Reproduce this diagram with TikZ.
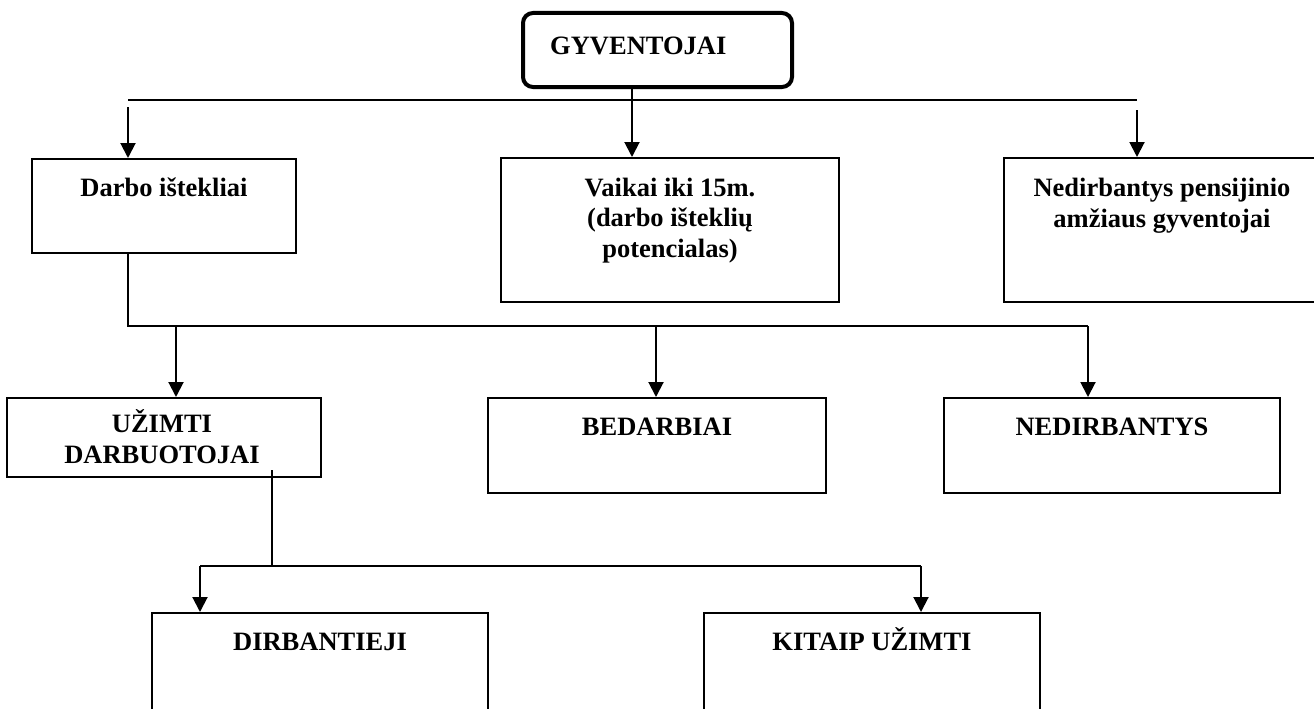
\documentclass[tikz,border=0pt]{standalone}
\usepackage{fontspec}
\setmainfont{Liberation Serif}
\usetikzlibrary{arrows.meta,calc}

\begin{document}
\begin{tikzpicture}[x=1pt,y=-1pt,
  line/.style={line width=2pt,draw=black},
  arr/.style={line width=2pt,draw=black,-{Triangle[length=15pt,width=15pt]}},
  box/.style={draw=black,line width=2pt,rectangle,inner sep=0pt},
  txt/.style={font=\bfseries\fontsize{26.5}{30.5}\selectfont,align=center,inner sep=0pt,anchor=base}
]
\useasboundingbox (0,0) rectangle (1314,709);
\clip (0,0) rectangle (1314,709);

% top level
\node[draw=black,line width=4pt,rounded corners=10pt,minimum width=269,minimum height=74,inner sep=0pt] (top) at (657.5,50) {};
\node[txt,anchor=base west] (top-t) at (550,55) {GYVENTOJAI};

% first row (multi-line labels are placed by their last baseline)
\node[box,minimum width=264,minimum height=94] (darbo) at (164,206) {};
\node[txt] (darbo-t) at (164,196) {Darbo ištekliai};
\node[box,minimum width=338,minimum height=144] (vaikai) at (670,230) {};
\node[txt] (vaikai-t) at (670,257) {Vaikai iki 15m.\\(darbo išteklių\\potencialas)};
\node[box,minimum width=318,minimum height=144] (pens) at (1163,230) {};
\node[txt] (pens-t) at (1162,227) {Nedirbantys pensijinio\\amžiaus gyventojai};

% second row
\node[box,minimum width=314,minimum height=79] (uzimti) at (164,437.5) {};
\node[txt] (uzimti-t) at (162,463) {UŽIMTI\\DARBUOTOJAI};
\node[box,minimum width=338,minimum height=95] (bedarb) at (657,445.5) {};
\node[txt] (bedarb-t) at (657,435) {BEDARBIAI};
\node[box,minimum width=336,minimum height=95] (nedirb) at (1112,445.5) {};
\node[txt] (nedirb-t) at (1112,435) {NEDIRBANTYS};

% third row
\node[box,minimum width=336,minimum height=127] (dirb) at (320,676.5) {};
\node[txt] (dirb-t) at (320,650) {DIRBANTIEJI};
\node[box,minimum width=336,minimum height=127] (kitaip) at (872,676.5) {};
\node[txt] (kitaip-t) at (872,650) {KITAIP UŽIMTI};

% connectors from the top box
\coordinate (j1) at (632,100);
\coordinate (h1l) at (128,100);
\coordinate (h1r) at (1137,100);
\coordinate (a1l) at (128,107);
\coordinate (a1r) at (1137,110);
\draw[line] (j1 |- top.south) -- (j1);
\draw[line] (h1l) -- (h1r);
\draw[arr] (j1) -- (j1 |- vaikai.north);
\draw[arr] (a1l) -- (a1l |- darbo.north);
\draw[arr] (a1r) -- (a1r |- pens.north);

% connectors from the labour resources box
\coordinate (j2) at (128,326);
\coordinate (h2r) at (1088,326);
\draw[line] (j2 |- darbo.south) -- (j2) -- (h2r);
\coordinate (b1) at (176,326);
\coordinate (b2) at (656,326);
\draw[arr] (b1) -- (b1 |- uzimti.north);
\draw[arr] (b2) -- (b2 |- bedarb.north);
\draw[arr] (h2r) -- (h2r |- nedirb.north);

% connectors from the employed box
\coordinate (s3) at (272,470);
\coordinate (j3) at (272,566);
\coordinate (h3l) at (200,566);
\coordinate (h3r) at (921,566);
\draw[line] (s3) -- (j3);
\draw[line] (h3l) -- (h3r);
\draw[arr] (h3l) -- (h3l |- dirb.north);
\draw[arr] (h3r) -- (h3r |- kitaip.north);
\end{tikzpicture}
\end{document}
